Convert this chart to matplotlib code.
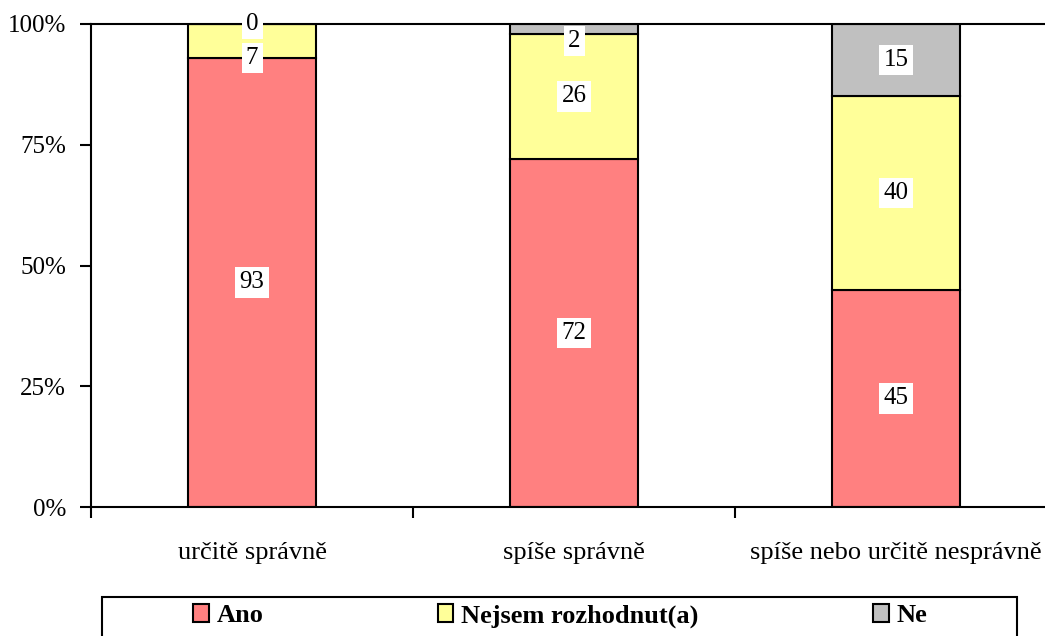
import matplotlib.pyplot as plt
from matplotlib.patches import Patch, Rectangle

categories = ["určitě správně", "spíše správně", "spíše nebo určitě nesprávně"]
series_names = ["Ano", "Nejsem rozhodnut(a)", "Ne"]
ano = [93, 72, 45]
nejsem = [7, 26, 40]
ne = [0, 2, 15]
y_ticks = [0, 25, 50, 75, 100]
y_tick_labels = ["0%", "25%", "50%", "75%", "100%"]

colors = ["#FF8080", "#FFFF99", "#C0C0C0"]

plt.rcParams['font.family'] = ['Liberation Serif', 'DejaVu Serif']

fig = plt.figure(figsize=(10.45, 6.36), dpi=100)
ax = fig.add_axes([91 / 1045, 1 - 507 / 636, 966 / 1045, 483 / 636])

series = [ano, nejsem, ne]
x = range(len(categories))
bottoms = [0] * len(categories)
label_pos = [[None] * len(series) for _ in categories]
for s, vals in enumerate(series):
    ax.bar(x, vals, bottom=bottoms, width=0.4, color=colors[s],
           edgecolor="black", linewidth=1.5, zorder=2)
    for i, v in enumerate(vals):
        label_pos[i][s] = (bottoms[i] + v / 2, v)
    bottoms = [b + v for b, v in zip(bottoms, vals)]

# data labels, pushed apart from the top down like Excel does
for i in x:
    prev = None
    for s in reversed(range(len(series))):
        yc, v = label_pos[i][s]
        if v > 0:
            yc = min(yc, 96.5)
        if prev is not None and prev - yc < 7:
            yc = prev - 7
        prev = yc
        ax.text(i, yc, str(v), ha="center", va="center", fontsize=18,
                bbox=dict(facecolor="white", edgecolor="none", pad=3), zorder=3)

ax.set_xlim(-0.5, 2.5)
ax.set_ylim(0, 100)
ax.set_yticks(y_ticks)
ax.set_yticklabels(y_tick_labels, fontsize=18)
ax.set_xticks([-0.5, 0.5, 1.5, 2.5])
ax.set_xticklabels([])
ax.set_xticks(list(x), minor=True)
ax.set_xticklabels(categories, minor=True, fontsize=19)
ax.tick_params(axis="x", which="minor", length=0, pad=25)
ax.tick_params(axis="x", which="major", direction="out", length=8, width=1.5)
ax.tick_params(axis="y", direction="out", length=8, width=1.5, pad=10)
for sp in ["left", "bottom", "top"]:
    ax.spines[sp].set_linewidth(1.5)
ax.spines["right"].set_visible(False)

# legend box spanning the width, entries centered inside
fig.patches.append(Rectangle((102 / 1045, -0.05), 915 / 1045, 0.05 + 1 - 597 / 636,
                             transform=fig.transFigure, facecolor="white",
                             edgecolor="black", linewidth=1.5, clip_on=False))
handles = [Patch(facecolor=c, edgecolor="black", linewidth=1.5) for c in colors]
fig.legend(handles, series_names, loc="center", ncol=3,
           bbox_to_anchor=(560 / 1045, 1 - 616 / 636),
           prop={"weight": "bold", "size": 19}, frameon=False,
           handlelength=0.6, handleheight=0.65, handletextpad=0.3,
           columnspacing=6.6, borderpad=0, borderaxespad=0)

fig.savefig("out.png", dpi=100)
